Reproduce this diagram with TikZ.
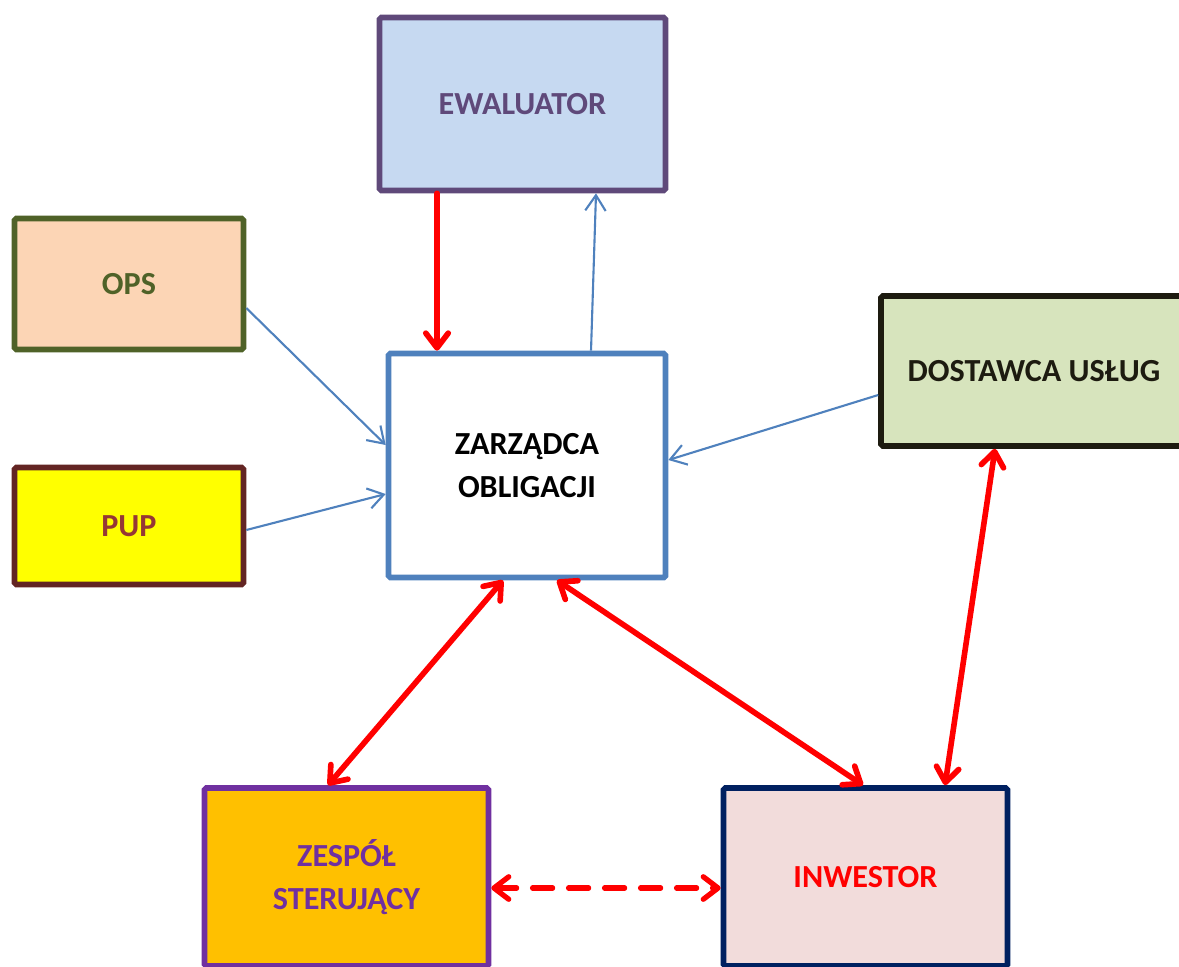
\documentclass[tikz,border=0pt]{standalone}
\usepackage{fontspec}
\setmainfont{Carlito}
\usetikzlibrary{arrows.meta}
\definecolor{ewalfill}{HTML}{C6D9F1}
\definecolor{ewalline}{HTML}{5F497A}
\definecolor{opsfill}{HTML}{FCD5B5}
\definecolor{opsline}{HTML}{4F6228}
\definecolor{pupfill}{HTML}{FFFF00}
\definecolor{pupline}{HTML}{632523}
\definecolor{puptext}{HTML}{953735}
\definecolor{zarzline}{HTML}{4F81BD}
\definecolor{dostfill}{HTML}{D7E4BD}
\definecolor{dostline}{HTML}{1D1B10}
\definecolor{zespfill}{HTML}{FFC000}
\definecolor{zespline}{HTML}{7030A0}
\definecolor{inwefill}{HTML}{F2DCDB}
\definecolor{inweline}{HTML}{002060}
\begin{document}
\begin{tikzpicture}[
        box/.style={draw, line width=1.6pt, rounded corners=0.5pt, align=center,
            font=\fontsize{9.15}{12.3}\selectfont\bfseries, inner sep=0pt},
        redarr/.style={draw=red, line width=1.6pt, line cap=round,
            arrows={-Straight Barb[length=4.2pt,width=6.4pt,round]}},
        redboth/.style={redarr, arrows={Straight Barb[length=4.2pt,width=6.4pt,round]-Straight Barb[length=4.2pt,width=6.4pt,round]}},
        bluearr/.style={draw=zarzline, line width=0.6pt,
            arrows={-Straight Barb[length=4.4pt,width=5.8pt]}}
    ]
                \useasboundingbox (0, 0) rectangle (11.79, 9.66);
                \clip (0, 0) rectangle (11.79, 9.66);
                % boxes
                \node[box, draw=ewalline, fill=ewalfill, text=ewalline, minimum width=2.86cm, minimum height=1.73cm] (ewal) at (5.225, 8.62) {EWALUATOR};
                \node[box, draw=opsline, fill=opsfill, text=opsline, minimum width=2.29cm, minimum height=1.31cm] (ops) at (1.29, 6.82) {OPS};
                \node[box, draw=pupline, fill=pupfill, text=puptext, minimum width=2.29cm, minimum height=1.17cm] (pup) at (1.29, 4.40) {PUP};
                \node[box, draw=zarzline, fill=white, text=black, minimum width=2.77cm, minimum height=2.24cm] (zarz) at (5.27, 5.005) {ZARZĄDCA\\OBLIGACJI};
                \node[box, draw=dostline, fill=dostfill, text=dostline, minimum width=3.06cm, minimum height=1.50cm] (dost) at (10.34, 5.95) {DOSTAWCA USŁUG};
                \node[box, draw=zespline, fill=zespfill, text=zespline, minimum width=2.84cm, minimum height=1.78cm] (zesp) at (3.465, 0.89) {ZESPÓŁ\\STERUJĄCY};
                \node[box, draw=inweline, fill=inwefill, text=red, minimum width=2.84cm, minimum height=1.78cm] (inwe) at (8.655, 0.89) {INWESTOR};
                % connectors
                \draw[redarr] ([xshift=-0.855cm]ewal.south) -- ([xshift=-0.855cm]ewal.south |- zarz.north);
                \draw[bluearr] ([xshift=0.64cm]zarz.north) -- ([xshift=0.735cm]ewal.south);
                \draw[bluearr] ([yshift=-0.24cm]ops.east) -- ([yshift=0.205cm]zarz.west);
                \draw[bluearr] ([yshift=-0.04cm]pup.east) -- ([yshift=-0.285cm]zarz.west);
                \draw[bluearr] ([yshift=-0.24cm]dost.west) -- ([yshift=0.055cm]zarz.east);
                \draw[redboth] ([xshift=-0.24cm]zarz.south) -- ([xshift=-0.185cm]zesp.north);
                \draw[redboth] ([xshift=0.30cm]zarz.south) -- ([xshift=-0.025cm]inwe.north);
                \draw[redboth] ([xshift=-0.39cm]dost.south) -- ([xshift=0.795cm]inwe.north);
                \draw[redboth, line width=1.5pt, dash pattern=on 0.2cm off 0.16cm] ([yshift=-0.11cm]zesp.east) -- ([yshift=-0.11cm]inwe.west);
\end{tikzpicture}
\end{document}
